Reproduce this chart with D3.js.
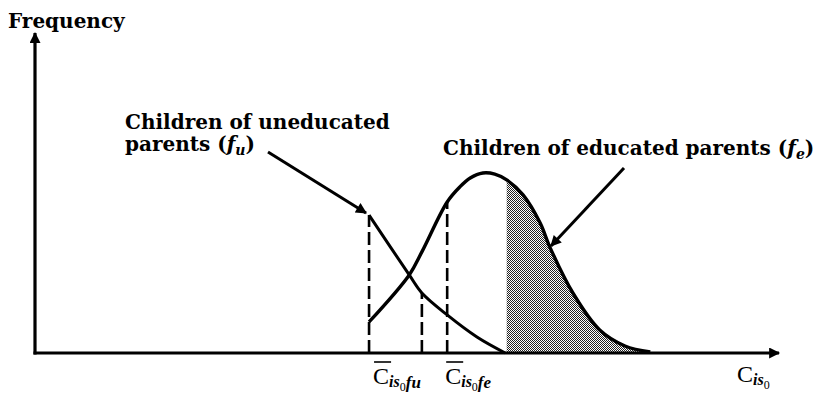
<!DOCTYPE html>
<html>
<head>
<meta charset="utf-8">
<script src="https://cdn.jsdelivr.net/npm/d3@7"></script>
<style>
  html, body { margin: 0; padding: 0; background: #fff; }
  svg { display: block; }
</style>
</head>
<body>
<div id="chart"></div>
<script>
// ---- data (schematic distributions) ----
const fuX = [44.9, 50.3, 52.0, 55.4, 59.4, 63.2];
const fuY = [43.1, 24.4, 18.75, 11.9, 5.0, 0.0];
const feX = [44.9, 50.3, 52.0, 55.4, 57.1, 58.5, 60.2, 61.8, 63.4, 65.6, 67.9, 69.2, 72.3, 75.9, 79.3, 82.7];
const feY = [9.7, 24.4, 31.6, 47.2, 51.9, 54.7, 56.25, 55.9, 54.1, 49.4, 40.6, 33.1, 18.75, 7.2, 2.2, 0.3];
const dashX = [44.9, 52.0, 55.4];
const dashTop = [43.1, 18.75, 47.2];
const shadeStart = 63.4;
const yAxisTitle = "Frequency";
const labelU = ["Children of uneducated", "parents ("];
const labelE = "Children of educated parents (";

const W = 827, H = 396;
const svg = d3.select("#chart").append("svg").attr("width", W).attr("height", H);

const x = d3.scaleLinear().domain([0, 100]).range([35, 779]);
const y = d3.scaleLinear().domain([0, 100]).range([353, 33]);

const defs = svg.append("defs");
const pat = defs.append("pattern").attr("id", "dots")
  .attr("patternUnits", "userSpaceOnUse").attr("width", 2).attr("height", 2);
pat.append("rect").attr("width", 2).attr("height", 2).attr("fill", "#fff");
pat.append("rect").attr("x", 0).attr("y", 0).attr("width", 1).attr("height", 1).attr("fill", "#222");
pat.append("rect").attr("x", 1).attr("y", 1).attr("width", 1).attr("height", 1).attr("fill", "#222");

defs.append("marker").attr("id", "arr")
  .attr("viewBox", "0 0 10 10").attr("refX", 9).attr("refY", 5)
  .attr("markerWidth", 16).attr("markerHeight", 11)
  .attr("markerUnits", "userSpaceOnUse").attr("orient", "auto")
  .append("path").attr("d", "M0,0 L10,5 L0,10 z").attr("fill", "#000");

defs.append("clipPath").attr("id", "shadeClip")
  .append("rect").attr("x", x(shadeStart)).attr("y", 0)
  .attr("width", W - x(shadeStart)).attr("height", y(0));

const fu = fuX.map((v, i) => [v, fuY[i]]);
const fe = feX.map((v, i) => [v, feY[i]]);
const curve = d3.curveCatmullRom.alpha(0.5);

// shaded tail under fe
svg.append("path")
  .attr("d", d3.area().x(d => x(d[0])).y0(y(0)).y1(d => y(d[1])).curve(curve)(fe))
  .attr("fill", "url(#dots)").attr("clip-path", "url(#shadeClip)");

// dashed verticals
svg.selectAll(".dash").data(dashX).enter().append("line")
  .attr("x1", d => x(d)).attr("x2", d => x(d))
  .attr("y1", y(0)).attr("y2", (d, i) => y(dashTop[i]))
  .attr("stroke", "#000").attr("stroke-width", 2.6)
  .attr("stroke-dasharray", "13,5");

// curves
const line = d3.line().x(d => x(d[0])).y(d => y(d[1])).curve(curve);
svg.append("path").attr("d", line(fu)).attr("fill", "none")
  .attr("stroke", "#000").attr("stroke-width", 3);
svg.append("path").attr("d", line(fe)).attr("fill", "none")
  .attr("stroke", "#000").attr("stroke-width", 3.4);

// axes
svg.append("line").attr("x1", x(0)).attr("x2", x(0)).attr("y1", y(0) + 1.5).attr("y2", y(100))
  .attr("stroke", "#000").attr("stroke-width", 3.2).attr("marker-end", "url(#arr)");
svg.append("line").attr("x1", x(0) - 1.5).attr("x2", x(100)).attr("y1", y(0)).attr("y2", y(0))
  .attr("stroke", "#000").attr("stroke-width", 3.2).attr("marker-end", "url(#arr)");

// annotation arrows
svg.append("line").attr("x1", 268).attr("y1", 152).attr("x2", 366).attr("y2", 213)
  .attr("stroke", "#000").attr("stroke-width", 3).attr("marker-end", "url(#arr)");
svg.append("line").attr("x1", 624).attr("y1", 168).attr("x2", 551).attr("y2", 246)
  .attr("stroke", "#000").attr("stroke-width", 3).attr("marker-end", "url(#arr)");

// text
const serif = "'DejaVu Serif', 'Liberation Serif', serif";
svg.append("text").attr("x", 8).attr("y", 28).text(yAxisTitle)
  .attr("font-family", serif).attr("font-weight", "bold").attr("font-size", 20);

const tU1 = svg.append("text").attr("x", 125).attr("y", 129)
  .attr("font-family", serif).attr("font-weight", "bold").attr("font-size", 20)
  .text(labelU[0]);
const tU = svg.append("text").attr("x", 125).attr("y", 151)
  .attr("font-family", serif).attr("font-weight", "bold").attr("font-size", 20);
tU.append("tspan").text(labelU[1]);
tU.append("tspan").attr("font-style", "italic").text("f");
tU.append("tspan").attr("font-style", "italic").attr("font-size", 14).attr("dy", 4).text("u");
tU.append("tspan").attr("dy", -4).text(")");

const tE = svg.append("text").attr("x", 443).attr("y", 155)
  .attr("font-family", serif).attr("font-weight", "bold").attr("font-size", 20);
tE.append("tspan").text(labelE);
tE.append("tspan").attr("font-style", "italic").text("f");
tE.append("tspan").attr("font-style", "italic").attr("font-size", 14).attr("dy", 4).text("e");
tE.append("tspan").attr("dy", -4).text(")");

// axis symbols C_{is_0}
const sym = "'Liberation Serif', 'DejaVu Serif', serif";
function cLabel(px, base, suffix, bar) {
  const t = svg.append("text").attr("x", px).attr("y", base)
    .attr("font-family", sym).attr("font-size", 24);
  t.append("tspan").text("C");
  t.append("tspan").attr("font-size", 16).attr("font-style", "italic").attr("font-weight", "bold").attr("dy", 3).text("is");
  t.append("tspan").attr("font-size", 12).attr("dy", 4).text("0");
  if (suffix) t.append("tspan").attr("font-size", 17).attr("font-style", "italic").attr("font-weight", "bold").attr("dy", -3).text(suffix);
  if (bar) {
    const cw = t.node().getSubStringLength(0, 1);
    svg.append("line").attr("x1", px + 1).attr("x2", px + cw + 2)
      .attr("y1", base - 22).attr("y2", base - 22)
      .attr("stroke", "#000").attr("stroke-width", 1.6);
  }
}
cLabel(x(dashX[0]) + 4, 384, "fu", true);
cLabel(x(dashX[2]) - 2, 384, "fe", true);
cLabel(737, 382, null, false);
</script>
</body>
</html>
